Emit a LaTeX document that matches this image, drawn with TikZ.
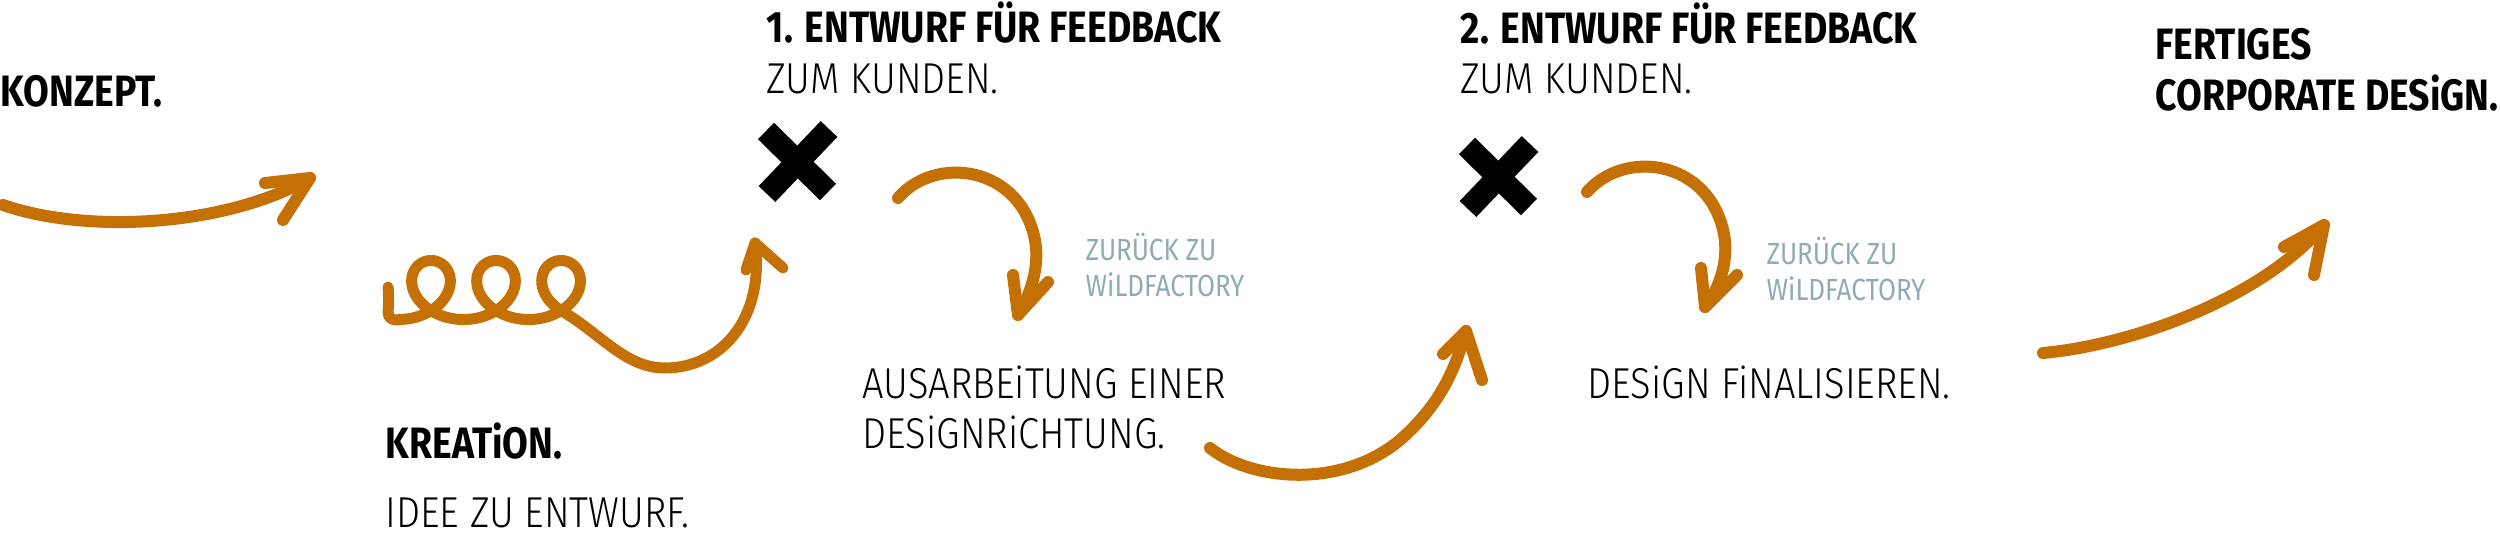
\documentclass[tikz,border=0pt]{standalone}
\usepackage{fontspec}
\newfontfamily\headfont[FakeStretch=0.85]{Fira Sans}
\newfontfamily\thinfont[FakeStretch=0.88]{Fira Sans Light}
\usetikzlibrary{positioning}
\definecolor{wildOrange}{RGB}{196,112,4}
\definecolor{wildGrey}{RGB}{143,172,178}

\begin{document}
\begin{tikzpicture}[x=0.1mm, y=-0.1mm,
  head/.style={anchor=base west, inner sep=0pt, font=\headfont\bfseries\fontsize{12.5}{14}\selectfont},
  body/.style={anchor=base west, inner sep=0pt, font=\thinfont\fontsize{12.3}{14}\selectfont},
  note/.style={anchor=base west, inner sep=0pt, text=wildGrey, font=\headfont\fontsize{8.7}{10}\selectfont},
  arr/.style={wildOrange, line width=1.2mm, line cap=round, line join=round},
  xmark/.style={line width=2.3mm}
]
  \useasboundingbox (0,0) rectangle (2500,539);

  % texts
  \node[head] (konzept)   at (0,106)    {KONZEPT.};
  \node[head] (kreation)  at (385,458)  {KREATiON.};
  \node[body] (idee)      at (385,527)  {IDEE ZU ENTWURF.};
  \node[head] (entwurf1)  at (766,42)   {1. ENTWURF FÜR FEEDBACK};
  \node[body] (kunde1)    at (766,93)   {ZUM KUNDEN.};
  \node[note] (zurueck1)  at (1085,260) {ZURÜCK ZU};
  \node[note] (wild1)     at (1085,296) {WiLDFACTORY};
  \node[body] (ausarb)    at (862,398)  {AUSARBEiTUNG EINER};
  \node[body] (richtung)  at (862,448)  {DESiGNRiCHTUNG.};
  \node[head] (entwurf2)  at (1460,43)  {2. ENTWURF FÜR FEEDBACK};
  \node[body] (kunde2)    at (1460,93)  {ZUM KUNDEN.};
  \node[note] (zurueck2)  at (1766,264) {ZURÜCK ZU};
  \node[note] (wild2)     at (1766,300) {WiLDFACTORY};
  \node[body] (final)     at (1587,398) {DESiGN FiNALISIEREN.};
  \node[head] (fertig)    at (2155,59)  {FERTIGES};
  \node[head] (corporate) at (2155,110) {CORPORATE DESiGN.};

  % crosses
  \draw[xmark] (766,131) -- (828,192);
  \draw[xmark] (829,129) -- (767,194);
  \draw[xmark] (1467,146) -- (1529,207);
  \draw[xmark] (1530,144) -- (1468,209);

  % tips
  \coordinate (a1tip) at (310,178);
  \coordinate (s tip) at (755,243);
  \coordinate (d1tip) at (1018,315);
  \coordinate (a3tip) at (1466,331);
  \coordinate (d2tip) at (1705,307);
  \coordinate (a4tip) at (2324,225);

  % konzept -> kreation
  \draw[arr] (3,205) .. controls (90,235) and (230,225) .. (a1tip);
  \draw[arr] (265,183) -- (a1tip) -- (283,220);

  % spiral
  \draw[arr, line width=1.1mm] (388,287) .. controls (391,310) and (382,320) .. (398.5,320)
    -- plot[domain=-pi:14.956, samples=240, variable=\t]
       ({431+10.35*\t-34*sin(\t r)}, {290-29.5*cos(\t r)})
    .. controls (600,333) and (625,368) .. (665,368)
    .. controls (720,368) and (765,320) .. (s tip);
  \draw[arr, line width=1.1mm] (746,270) -- (s tip) -- (783,268);

  % zurueck 1
  \draw[arr] (898,198) .. controls (935,155) and (1020,165) .. (1035,240)
    .. controls (1040,268) and (1030,295) .. (d1tip);
  \draw[arr] (1013,275) -- (d1tip) -- (1048,282);

  % ausarbeitung -> entwurf 2
  \draw[arr] (1210,448) .. controls (1250,480) and (1340,490) .. (1400,440)
    .. controls (1440,405) and (1455,370) .. (a3tip);
  \draw[arr] (1443,354) -- (a3tip) -- (1482,380);

  % zurueck 2
  \draw[arr] (1587,192) .. controls (1624,149) and (1709,159) .. (1724,234)
    .. controls (1729,262) and (1719,289) .. (d2tip);
  \draw[arr] (1701,268) -- (d2tip) -- (1737,275);

  % final -> fertig
  \draw[arr] (2043,353) .. controls (2130,345) and (2260,300) .. (a4tip);
  \draw[arr] (2284,247) -- (a4tip) -- (2314,275);
\end{tikzpicture}
\end{document}
